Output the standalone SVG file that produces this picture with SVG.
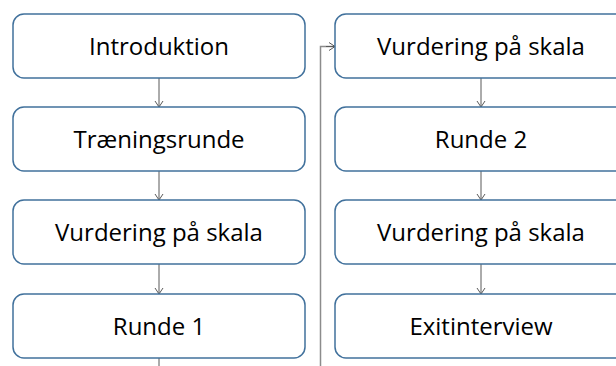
<svg xmlns="http://www.w3.org/2000/svg" width="616" height="366" viewBox="0 0 616 366">
<defs>
<style>
.box{fill:#fff;stroke:#41719c;stroke-width:1.5}
.t{font-family:"Open Sans","Liberation Sans",sans-serif;font-size:24px;fill:#000;text-anchor:middle}
.c{fill:none;stroke:#595959;stroke-width:1}
.c2{fill:none;stroke:#8c8c8c;stroke-width:1.5}
</style>
<marker id="a" markerWidth="10" markerHeight="10" refX="8" refY="5" orient="auto" markerUnits="userSpaceOnUse">
<path d="M2,1 L8,5 L2,9" fill="none" stroke="#595959" stroke-width="1"/>
</marker>
</defs>
<rect width="616" height="366" fill="#fff"/>
<g id="connectors">
<line class="c" x1="159" y1="78" x2="159" y2="107" marker-end="url(#a)"/>
<line class="c" x1="159" y1="171" x2="159" y2="200" marker-end="url(#a)"/>
<line class="c" x1="159" y1="264" x2="159" y2="294" marker-end="url(#a)"/>
<line class="c" x1="159" y1="358" x2="159" y2="370"/>
<path class="c2" d="M320.5,370 V46.5 H334"/>
<line class="c" x1="326" y1="46.5" x2="335" y2="46.5" marker-end="url(#a)"/>
<line class="c" x1="481" y1="78" x2="481" y2="107" marker-end="url(#a)"/>
<line class="c" x1="481" y1="171" x2="481" y2="200" marker-end="url(#a)"/>
<line class="c" x1="481" y1="264" x2="481" y2="294" marker-end="url(#a)"/>
</g>
<g id="n1"><rect class="box" x="13" y="14" width="292" height="64" rx="11"/><text class="t" x="159" y="54.5">Introduktion</text></g>
<g id="n2"><rect class="box" x="13" y="107" width="292" height="64" rx="11"/><text class="t" x="159" y="147.5">Træningsrunde</text></g>
<g id="n3"><rect class="box" x="13" y="200" width="292" height="64" rx="11"/><text class="t" x="159" y="240.5">Vurdering på skala</text></g>
<g id="n4"><rect class="box" x="13" y="294" width="292" height="64" rx="11"/><text class="t" x="159" y="334.5">Runde 1</text></g>
<g id="n5"><rect class="box" x="335" y="14" width="292" height="64" rx="11"/><text class="t" x="481" y="54.5">Vurdering på skala</text></g>
<g id="n6"><rect class="box" x="335" y="107" width="292" height="64" rx="11"/><text class="t" x="481" y="147.5">Runde 2</text></g>
<g id="n7"><rect class="box" x="335" y="200" width="292" height="64" rx="11"/><text class="t" x="481" y="240.5">Vurdering på skala</text></g>
<g id="n8"><rect class="box" x="335" y="294" width="292" height="64" rx="11"/><text class="t" x="481" y="334.5">Exitinterview</text></g>
</svg>
